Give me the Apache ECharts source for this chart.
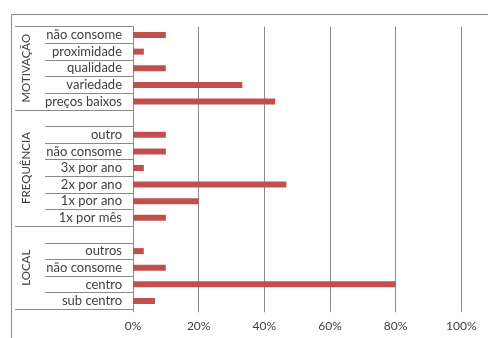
<!DOCTYPE html>
<html>
<head>
<meta charset="utf-8">
<script src="https://cdn.jsdelivr.net/npm/echarts@6/dist/echarts.min.js"></script>
<style>
html,body{margin:0;padding:0;background:#fff;}
#c{width:488px;height:338px;}
</style>
</head>
<body>
<div id="c"></div>
<script>
// Categories, top to bottom ('' = spacer row belonging to the next group)
const categories = [
  'não consome', 'proximidade', 'qualidade', 'variedade', 'preços baixos',
  '', 'outro', 'não consome', '3x por ano', '2x por ano', '1x por ano', '1x por mês',
  '', 'outros', 'não consome', 'centro', 'sub centro'
];
// Share of respondents (fraction), same order
const values = [
  0.10, 0.033, 0.10, 0.333, 0.433,
  null, 0.10, 0.10, 0.033, 0.467, 0.20, 0.10,
  null, 0.033, 0.10, 0.80, 0.067
];
// Outer category groups: name, first row index, row count
const groupNames = ['MOTIVAÇÃO', 'FREQUÊNCIA', 'LOCAL'];
const groupStarts = [0, 5, 12];
const groupSizes = [5, 7, 5];
// Value axis ticks
const tickValues = [0, 0.2, 0.4, 0.6, 0.8, 1.0];

const groupLabelRow = categories.map(() => '');
groupNames.forEach((g, i) => {
  groupLabelRow[groupStarts[i] + Math.floor(groupSizes[i] / 2)] = g;
});

const gray = '#8a8a8a';
const textColor = '#404040';
const font = 'Lato';

const chart = echarts.init(document.getElementById('c'), null, {renderer: 'canvas'});
chart.setOption({
  animation: false,
  backgroundColor: '#fff',
  graphic: [{
    type: 'rect', left: 9, top: 12, silent: true,
    shape: {width: 490, height: 400},
    style: {fill: 'none', stroke: gray, lineWidth: 1}
  }],
  grid: {left: 133, right: 26.7, top: 26.7, bottom: 28.7, containLabel: false},
  xAxis: {
    type: 'value', min: tickValues[0], max: tickValues[tickValues.length - 1], interval: 0.2,
    axisLine: {show: false},
    axisTick: {show: true, length: 3, lineStyle: {color: gray}},
    splitLine: {show: true, lineStyle: {color: gray, width: 1}},
    axisLabel: {
      color: textColor, fontFamily: font, fontSize: 12, margin: 11,
      formatter: v => Math.round(v * 100) + '%'
    }
  },
  yAxis: [{
    type: 'category', data: categories, inverse: true,
    axisLine: {show: true, lineStyle: {color: gray}},
    axisTick: {show: true, interval: 0, length: 88, lineStyle: {color: gray}},
    axisLabel: {interval: 0, color: textColor, fontFamily: font, fontSize: 13, margin: 11}
  }, {
    type: 'category', data: categories, inverse: true, position: 'left',
    axisLine: {show: false},
    axisTick: {show: true, length: 118, lineStyle: {color: gray},
      interval: idx => groupStarts.indexOf(idx) >= 0},
    axisLabel: {show: false}
  }, {
    type: 'category', data: groupLabelRow, inverse: true, position: 'left',
    axisLine: {show: false},
    axisTick: {show: false},
    axisLabel: {interval: 0, rotate: 90, color: textColor, fontFamily: font, fontSize: 11.5, margin: 101}
  }],
  series: [{
    type: 'bar', yAxisIndex: 0, data: values, barWidth: 6,
    itemStyle: {color: '#C0504D'}
  }]
});
</script>
</body>
</html>
